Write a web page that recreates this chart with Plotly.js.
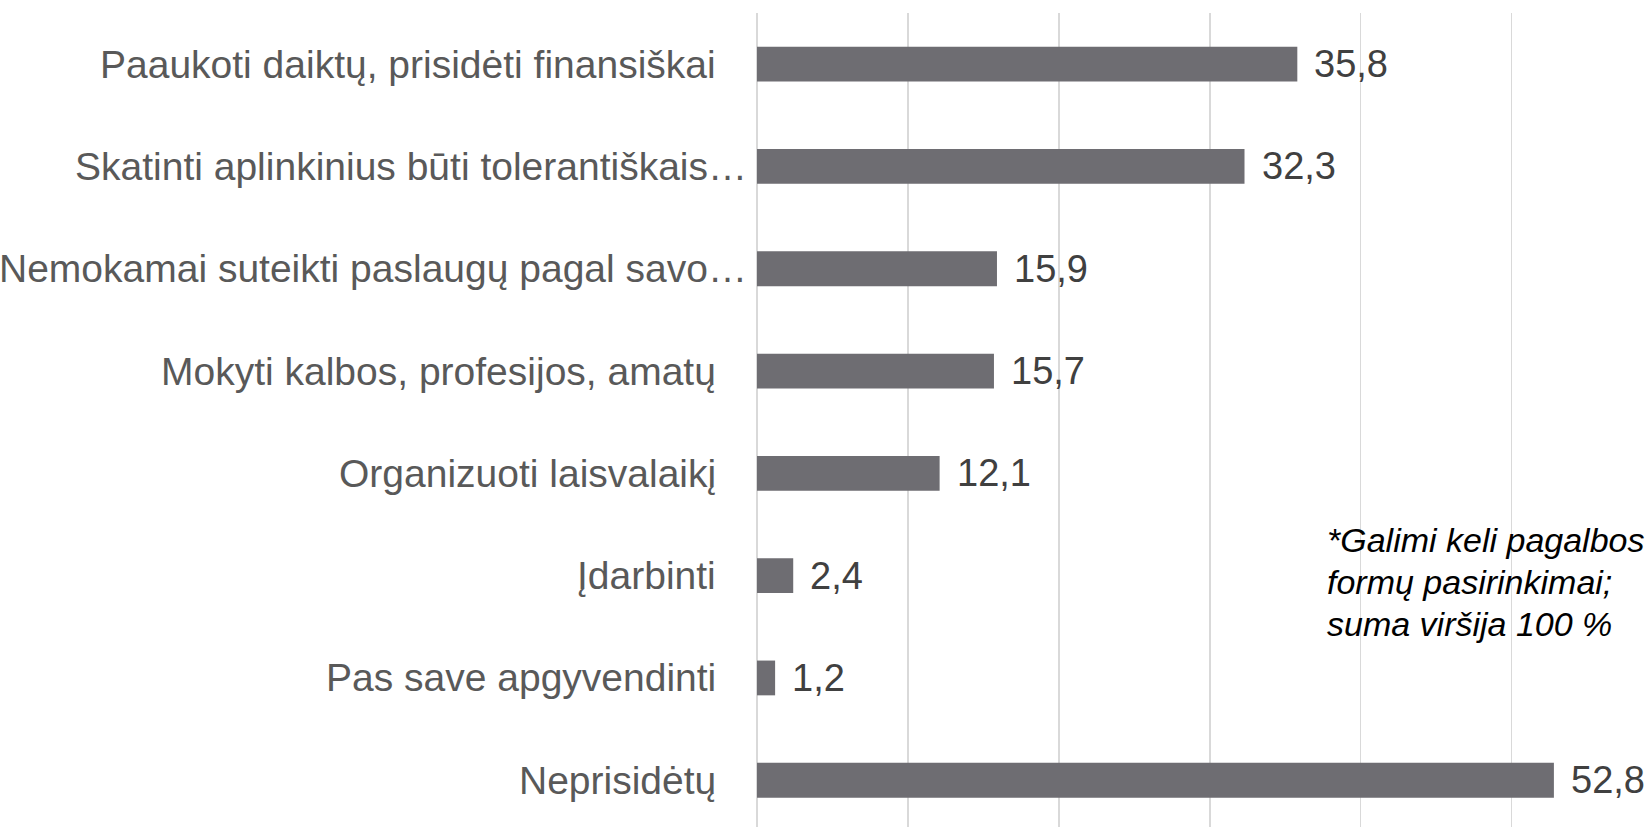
<!DOCTYPE html>
<html>
<head>
<meta charset="utf-8">
<script src="https://cdn.plot.ly/plotly-3.0.1.min.js"></script>
<style>html,body{margin:0;padding:0;background:#fff;}#chart{width:1652px;height:827px;}</style>
</head>
<body>
<div id="chart"></div>
<script>
const categories = [
  "Paaukoti daiktų, prisidėti finansiškai",
  "Skatinti aplinkinius būti tolerantiškais…",
  "Nemokamai suteikti paslaugų pagal savo…",
  "Mokyti kalbos, profesijos, amatų",
  "Organizuoti laisvalaikį",
  "Įdarbinti",
  "Pas save apgyvendinti",
  "Neprisidėtų"
];
const values = [35.8, 32.3, 15.9, 15.7, 12.1, 2.4, 1.2, 52.8];
const valueLabels = ["35,8", "32,3", "15,9", "15,7", "12,1", "2,4", "1,2", "52,8"];
const footnoteLines = ["*Galimi keli pagalbos", "formų pasirinkimai;", "suma viršija 100 %"];

const FONT = "'Liberation Sans Narrow', 'Arial Narrow', 'Liberation Sans', sans-serif";

const annotations = [];
categories.forEach((c, i) => {
  annotations.push({
    x: 0, y: i, xref: 'x', yref: 'y',
    text: c, showarrow: false, xanchor: 'right', yanchor: 'middle',
    xshift: c.endsWith('…') ? -8 : -39,
    font: {family: FONT, size: 39, color: '#595959'}
  });
  annotations.push({
    x: values[i], y: i, xref: 'x', yref: 'y',
    text: valueLabels[i], showarrow: false, xanchor: 'left', yanchor: 'middle',
    xshift: 15,
    font: {family: FONT, size: 38, color: '#404040'}
  });
});
footnoteLines.forEach((t, k) => {
  annotations.push({
    x: 0.635, y: 0.352, xref: 'paper', yref: 'paper',
    text: '<i>' + t + '</i>', showarrow: false, xanchor: 'left', yanchor: 'middle',
    yshift: -42 * k,
    font: {family: FONT, size: 34, color: '#000000'}
  });
});

const trace = {
  type: 'bar', orientation: 'h',
  x: values, y: categories.map((c, i) => i),
  marker: {color: '#6e6d72'},
  hoverinfo: 'skip'
};

const layout = {
  width: 1652, height: 827,
  margin: {l: 757, r: 0, t: 13, b: 0, pad: 0},
  paper_bgcolor: '#ffffff', plot_bgcolor: '#ffffff',
  bargap: 0.66,
  showlegend: false,
  xaxis: {
    range: [0, 59.3], dtick: 10, tick0: 0,
    showgrid: true, gridcolor: '#d9d9d9', gridwidth: 1.5,
    zeroline: true, zerolinecolor: '#d9d9d9', zerolinewidth: 1.5,
    showticklabels: false, showline: false, ticks: '', fixedrange: true
  },
  yaxis: {
    range: [7.457, -0.5], showgrid: false, zeroline: false,
    showticklabels: false, showline: false, ticks: '', fixedrange: true
  },
  annotations: annotations
};

Plotly.newPlot('chart', [trace], layout, {displayModeBar: false, staticPlot: true});
</script>
</body>
</html>
